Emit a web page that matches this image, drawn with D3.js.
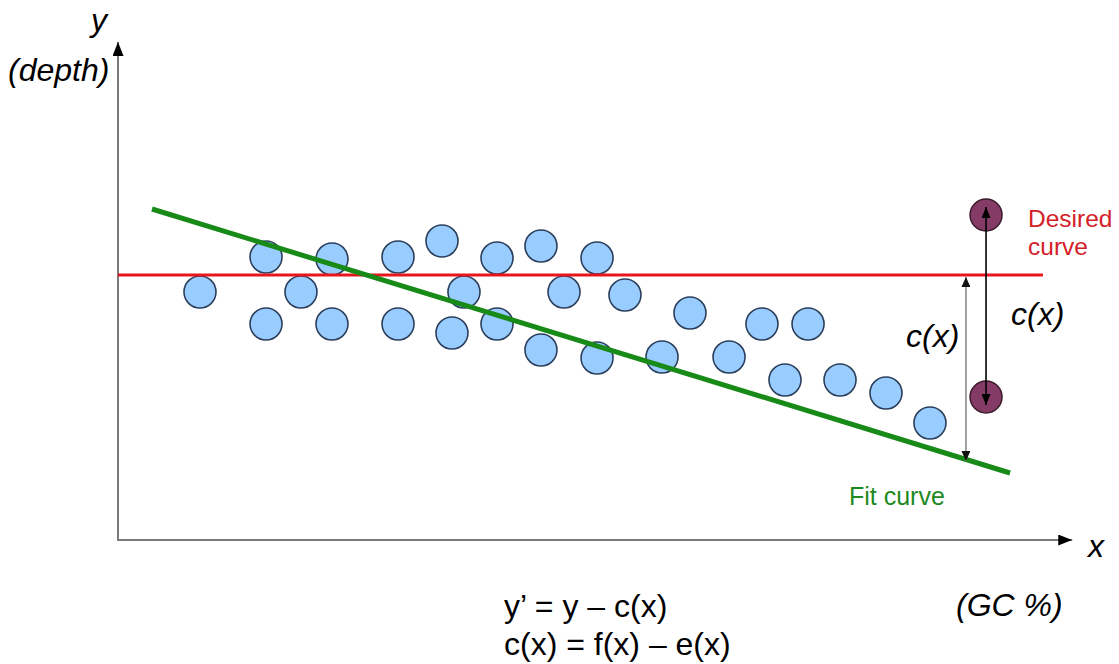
<!DOCTYPE html>
<html><head><meta charset="utf-8">
<script src="https://cdn.jsdelivr.net/npm/d3@7"></script>
<style>body{margin:0;background:#fff}svg{display:block}text{font-family:"Liberation Sans",Arial,sans-serif}</style>
</head><body>
<svg id="c" width="1119" height="664"></svg>
<script>
// Data (x: GC %, y: depth, arbitrary units 0..100)
const pointsX = [8.54,15.42,15.42,19.06,22.29,22.29,29.17,29.17,33.75,34.79,36.04,39.48,39.48,44.06,44.06,46.46,49.9,49.9,52.81,56.67,59.58,63.65,67.08,71.88,69.48,75.21,80.0,84.58];
const pointsY = [49.6,56.6,43.2,49.6,56.2,43.2,56.6,43.2,59.8,41.4,49.6,56.4,43.2,58.8,38.0,49.6,56.4,36.4,49.0,36.6,45.4,36.6,43.2,43.2,32.0,32.0,29.4,23.4];
const desiredX = [0, 96.35];
const desiredY = [53, 53];
const fitX = [3.54, 92.92];
const fitY = [66.2, 13.4];
const shiftedX = [90.42, 90.42];
const shiftedY = [65, 28.6];
const corrX = 88.33;
const corrY = [15.8, 52.6];

const svg = d3.select("#c");
const x = d3.scaleLinear().domain([0,100]).range([118,1078]);
const y = d3.scaleLinear().domain([0,100]).range([540,40]);

const defs = svg.append("defs");
function marker(id, color, w, h){
  defs.append("marker").attr("id",id).attr("viewBox","0 0 10 10").attr("refX",10).attr("refY",5)
    .attr("markerWidth",w).attr("markerHeight",h).attr("markerUnits","userSpaceOnUse").attr("orient","auto-start-reverse")
    .attr("preserveAspectRatio","none")
    .append("path").attr("d","M0,0L10,5L0,10Z").attr("fill",color);
}
marker("axArrow","#000",14,11);
marker("grArrow","#111",10,9);
marker("bkArrow","#000",11,9);

// axes
svg.append("line").attr("x1",x(0)).attr("y1",y(0)).attr("x2",x(0)).attr("y2",y(99.6))
  .attr("stroke","#7a7a7a").attr("stroke-width",2).attr("marker-end","url(#axArrow)");
svg.append("line").attr("x1",x(0)-1).attr("y1",y(0)).attr("x2",x(99.4)).attr("y2",y(0))
  .attr("stroke","#7a7a7a").attr("stroke-width",2).attr("marker-end","url(#axArrow)");

// points
svg.append("g").selectAll("circle").data(pointsX.map((d,i)=>[d,pointsY[i]])).join("circle")
  .attr("cx",d=>x(d[0])).attr("cy",d=>y(d[1])).attr("r",16)
  .attr("fill","#99ccff").attr("stroke","#2b3f5c").attr("stroke-width",1.6);

// desired line
svg.append("line").attr("x1",x(desiredX[0])).attr("y1",y(desiredY[0])).attr("x2",x(desiredX[1])).attr("y2",y(desiredY[1]))
  .attr("stroke","#e8161c").attr("stroke-width",3);
// fit line
svg.append("line").attr("x1",x(fitX[0])).attr("y1",y(fitY[0])).attr("x2",x(fitX[1])).attr("y2",y(fitY[1]))
  .attr("stroke","#178a17").attr("stroke-width",5);

// correction arrow (gray, both heads)
svg.append("line").attr("x1",x(corrX)).attr("y1",y(corrY[0])).attr("x2",x(corrX)).attr("y2",y(corrY[1]))
  .attr("stroke","#8a8a8a").attr("stroke-width",1.6)
  .attr("marker-start","url(#grArrow)").attr("marker-end","url(#grArrow)");

// shifted points
svg.append("g").selectAll("circle").data(shiftedX.map((d,i)=>[d,shiftedY[i]])).join("circle")
  .attr("cx",d=>x(d[0])).attr("cy",d=>y(d[1])).attr("r",16)
  .attr("fill","#843c66").attr("stroke","#3b1a2c").attr("stroke-width",1.5);
svg.append("line").attr("x1",x(shiftedX[0])).attr("y1",y(shiftedY[1])+8).attr("x2",x(shiftedX[0])).attr("y2",y(shiftedY[0])-8)
  .attr("stroke","#000").attr("stroke-width",1.6)
  .attr("marker-start","url(#bkArrow)").attr("marker-end","url(#bkArrow)");

// texts
function t(txt, px, py, size, opts={}){
  return svg.append("text").attr("x",px).attr("y",py).attr("font-size",size)
    .attr("font-style",opts.italic?"italic":"normal").attr("fill",opts.color||"#000")
    .attr("text-anchor",opts.anchor||"start").text(txt);
}
t("y", 91, 31, 32, {italic:true});
t("(depth)", 8, 81, 32, {italic:true});
t("x", 1088, 557, 32, {italic:true});
t("(GC %)", 956, 616, 32, {italic:true});
t("c(x)", 906, 347, 32, {italic:true});
t("c(x)", 1011, 325, 32, {italic:true});
t("Desired", 1028, 227, 24.5, {color:"#d42028"});
t("curve", 1028, 255, 24.5, {color:"#d42028"});
t("Fit curve", 849, 505, 25, {color:"#1e8a1e"});
t("y’ = y – c(x)", 504, 617, 32);
t("c(x) = f(x) – e(x)", 504, 655, 32);
</script>
</body></html>
